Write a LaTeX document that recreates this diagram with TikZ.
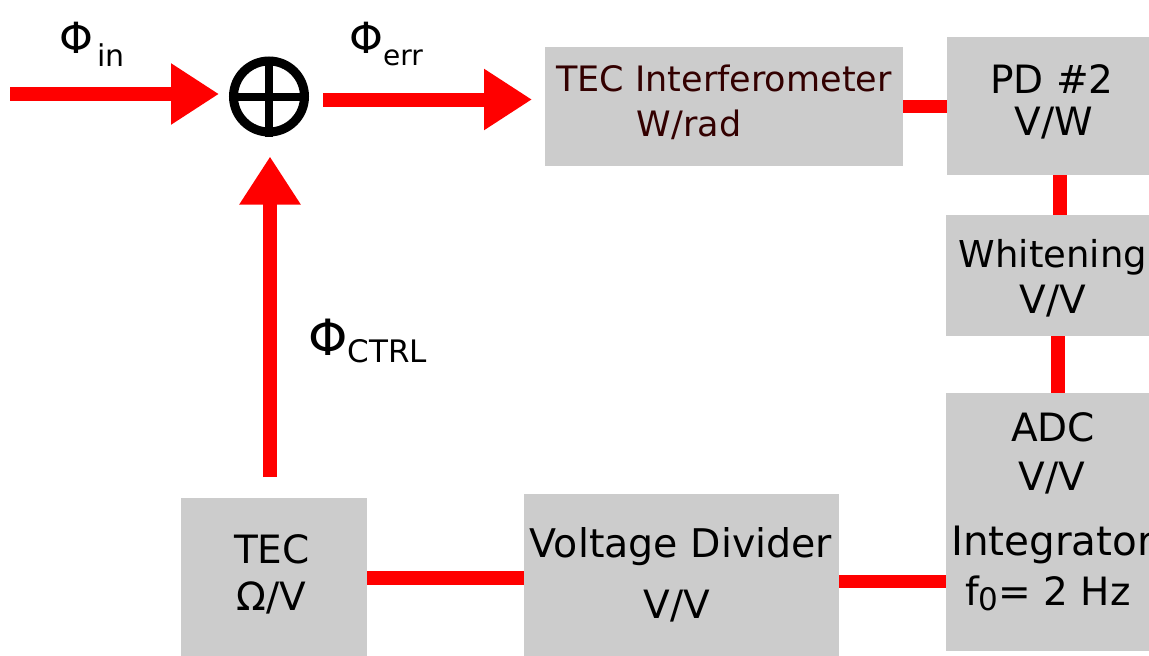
\documentclass[tikz,border=0pt]{standalone}
\usepackage{fontspec}
\setmainfont{DejaVu Sans}
\usetikzlibrary{arrows.meta,calc}
\definecolor{boxgray}{RGB}{204,204,204}
\definecolor{linered}{RGB}{255,0,0}
\definecolor{darktext}{RGB}{51,0,0}
\begin{document}
\begin{tikzpicture}[x=1pt,y=-1pt,
  box/.style={fill=boxgray, inner sep=0pt, outer sep=0pt},
  conn/.style={draw=linered, line width=13.5pt},
  arr/.style={draw=linered, line width=14pt, -{Triangle[length=48pt,width=58pt]}},
  lbl/.style={inner sep=0pt, anchor=base, font=\fontsize{39}{39}\selectfont},
  phil/.style={inner sep=0pt, anchor=base west},
]
\useasboundingbox (0,0) rectangle (1149,656);

% boxes
\node[box, minimum width=358pt, minimum height=119pt] (interf) at (724,106.5) {};
\node[box, minimum width=205pt, minimum height=138pt] (pd) at (1049.5,106) {};
\node[box, minimum width=205pt, minimum height=121pt] (white) at (1048.5,275.5) {};
\node[box, minimum width=205pt, minimum height=258pt] (adc) at (1048.5,522) {};
\node[box, minimum width=315pt, minimum height=164pt] (vd) at (681.5,576) {};
\node[box, minimum width=186pt, minimum height=160pt] (tec) at (274,578) {};

% summing junction
\node[draw=black, line width=9pt, circle, minimum size=71pt, inner sep=0pt] (sum) at (269,96.5) {};
\draw[line width=8pt] (sum.north) -- (sum.south);
\draw[line width=8pt] (sum.west) -- (sum.east);

% texts
\node[lbl, font=\fontsize{35}{35}\selectfont, text=darktext] (t1) at (724,91.7) {TEC Interferometer};
\node[lbl, font=\fontsize{35}{35}\selectfont, text=darktext] (t2) at (689,136.7) {W/rad};
\node[lbl] (t3) at (1052,93) {PD \#2};
\node[lbl] (t4) at (1054,135) {V/W};
\node[lbl, font=\fontsize{37}{37}\selectfont] (t5) at (1053,267) {Whitening};
\node[lbl] (t6) at (1053,313) {V/V};
\node[lbl] (t7) at (1053,441) {ADC};
\node[lbl] (t8) at (1052,490) {V/V};
\node[lbl, anchor=base west, font=\fontsize{40.5}{40.5}\selectfont] (t9) at (951,555) {Integrator};
\node[lbl, anchor=base west] (t10) at (965,605) {f\raisebox{-5pt}{\fontsize{31}{31}\selectfont 0}= 2 Hz};
\node[lbl] (t11) at (272,563) {TEC};
\node[lbl] (t12) at (271.5,610) {Ω/V};
\node[lbl, font=\fontsize{39.5}{39.5}\selectfont] (t13) at (681,557) {Voltage Divider};
\node[lbl] (t14) at (677,618) {V/V};

% signal labels
\node[phil] (lin) at (59,53) {\fontsize{43}{43}\selectfont Φ\hspace{4pt}\raisebox{-13.5pt}{\fontsize{30}{30}\selectfont in}};
\node[phil] (lerr) at (349,53) {\fontsize{43}{43}\selectfont Φ\raisebox{-12pt}{\fontsize{28}{28}\selectfont err}};
\node[phil] (lctrl) at (308,355) {\fontsize{50}{50}\selectfont Φ\raisebox{-7pt}{\fontsize{31}{31}\selectfont CTRL}};

% arrows
\coordinate (inp) at (10,94);
\draw[arr, shorten >=10pt] (inp) -- (inp -| sum.west);
\draw[arr, shorten <=14pt, shorten >=13pt] ([yshift=-3pt]sum.east) -- ([yshift=-3pt]sum.east -| interf.west);
\draw[arr, shorten <=21pt, shorten >=20pt] ([xshift=-4pt]tec.north) -- ([xshift=-4pt]tec.north |- sum.south);

% connectors
\draw[conn] (interf.east) -- (interf.east -| pd.west);
\draw[conn] ([xshift=10.5pt]pd.south) -- ([xshift=10.5pt]pd.south |- white.north);
\draw[conn] ([xshift=9.5pt]white.south) -- ([xshift=9.5pt]white.south |- adc.north);
\draw[conn] ([yshift=-5.5pt]vd.east) -- ([yshift=-5.5pt]vd.east -| adc.west);
\draw[conn] (tec.east) -- (tec.east -| vd.west);
\end{tikzpicture}
\end{document}
